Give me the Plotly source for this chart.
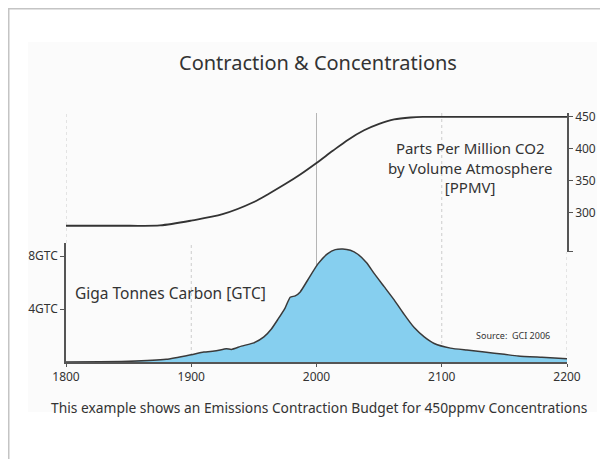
import plotly.graph_objects as go

# the page puts the figure 8px in from the top-left corner of the window
OFF = 8
W, H = 600, 451

# Emissions (GtC)
emis_years = [1800, 1850, 1880, 1900, 1910, 1920, 1928, 1932, 1940, 1950, 1958, 1964, 1969,
              1975, 1979, 1983, 1987, 1993, 2001, 2009, 2015, 2021, 2027, 2033, 2040, 2046,
              2054, 2062, 2070, 2078, 2086, 2094, 2107, 2120, 2134, 2150, 2161, 2180, 2200]
emis_gtc = [0.0, 0.05, 0.2, 0.55, 0.75, 0.85, 1.0, 0.95, 1.2, 1.45, 1.9, 2.5, 3.2,
            4.1, 4.9, 5.0, 5.3, 6.2, 7.4, 8.2, 8.5, 8.55, 8.45, 8.15, 7.5, 6.7,
            5.7, 4.7, 3.6, 2.6, 1.9, 1.4, 1.05, 0.9, 0.75, 0.58, 0.45, 0.35, 0.25]

# Atmospheric CO2 concentration (ppmv)
ppm_years = [1800, 1850, 1875, 1900, 1925, 1950, 1962, 1975, 1987, 2000, 2013, 2025,
             2038, 2050, 2062, 2075, 2085, 2100, 2200]
ppm_vals = [280, 280, 280.5, 288, 298, 317, 330, 345, 360, 378, 397, 414,
            429, 439, 446, 449, 450, 450, 450]

year_ticks = [1800, 1900, 2000, 2100, 2200]
gtc_ticks = [4, 8]
gtc_labels = ["4GTC", "8GTC"]
ppm_ticks = [240, 300, 350, 400, 450]
ppm_labels = ["", "300", "350", "400", "450"]


def px(x):
    return (x - OFF) / W


def py(y):
    return 1 - (y - OFF) / H


FONT = "Noto Sans"
INK = "#333333"

fig = go.Figure()

fig.add_trace(go.Scatter(
    x=emis_years, y=emis_gtc, mode="lines",
    line=dict(color="#3a3a3a", width=1.5, shape="spline", smoothing=0.5),
    fill="tozeroy", fillcolor="#86CFEF",
    xaxis="x", yaxis="y", hoverinfo="skip"))

fig.add_trace(go.Scatter(
    x=ppm_years, y=ppm_vals, mode="lines",
    line=dict(color="#333333", width=1.8, shape="spline", smoothing=0.8),
    xaxis="x", yaxis="y2", hoverinfo="skip"))

shapes = [
    # outer frame
    dict(type="line", xref="paper", yref="paper", x0=0, x1=1, y0=1, y1=1,
         line=dict(color="#c4c4c4", width=3), layer="below"),
    dict(type="line", xref="paper", yref="paper", x0=0, x1=0, y0=1, y1=0,
         line=dict(color="#c4c4c4", width=3), layer="below"),
    # light panel
    dict(type="rect", xref="paper", yref="paper", x0=px(28), x1=px(597), y0=py(42), y1=py(412),
         fillcolor="#fbfbfb", line=dict(width=0), layer="below"),
]

# vertical guides
top, mid, bot = py(113), py(243), py(362)
dotted = dict(color="#cccccc", width=1, dash="dot")
for yr in year_ticks:
    if yr == 2000:
        y0, y1, style = bot, top, dict(color="#b5b5b5", width=1)
    elif yr == 1800:
        y0, y1, style = mid, top, dotted
    elif yr == 1900:
        y0, y1, style = bot, mid, dotted
    elif yr == 2200:
        y0, y1, style = bot, py(252), dotted
    else:
        y0, y1, style = bot, top, dotted
    shapes.append(dict(type="line", xref="x", yref="paper", x0=yr, x1=yr, y0=y0, y1=y1,
                       line=style, layer="below"))


def note(text, x, y, size, xanchor="center"):
    return dict(text=text, x=px(x), y=py(y), xref="paper", yref="paper",
                xanchor=xanchor, yanchor="middle", showarrow=False, align="center",
                font=dict(size=size, color=INK, family=FONT))


annotations = [
    note("Contraction & Concentrations", 318, 62, 20),
    note("Parts Per Million CO2<br>by Volume Atmosphere<br>[PPMV]", 470, 167, 15),
    note("Giga Tonnes Carbon [GTC]", 73, 293, 15.5, "left"),
    note("Source:  GCI 2006", 552, 335, 9, "right"),
    note("This example shows an Emissions Contraction Budget for 450ppmv Concentrations",
         319, 407, 13.8),
]

fig.update_layout(
    width=W, height=H, autosize=False,
    margin=dict(l=0, r=0, t=0, b=0),
    paper_bgcolor="white", plot_bgcolor="rgba(0,0,0,0)",
    showlegend=False,
    font=dict(family=FONT, color=INK),
    shapes=shapes, annotations=annotations,
    xaxis=dict(domain=[px(66), px(567)], range=[1800, 2200], anchor="y", automargin=False,
               tickvals=year_ticks, ticks="outside", ticklen=3, tickcolor="#555",
               showline=True, linecolor="#555", linewidth=1.5, showgrid=False,
               zeroline=False, tickfont=dict(size=12, color=INK)),
    yaxis=dict(domain=[bot, mid], range=[0, 9], anchor="x", automargin=False,
               tickvals=gtc_ticks, ticktext=gtc_labels, ticks="outside", ticklen=4,
               tickcolor="#555", showline=True, linecolor="#555", linewidth=1.5,
               showgrid=False, zeroline=False, tickfont=dict(size=12, color=INK)),
    yaxis2=dict(domain=[py(252), top], range=[239, 456], anchor="x", side="right",
                automargin=False,
                tickvals=ppm_ticks, ticktext=ppm_labels, ticks="outside", ticklen=4,
                tickcolor="#555", showline=True, linecolor="#555", linewidth=1.5,
                showgrid=False, zeroline=False, tickfont=dict(size=12, color=INK)),
)

fig.write_html("out.html")
